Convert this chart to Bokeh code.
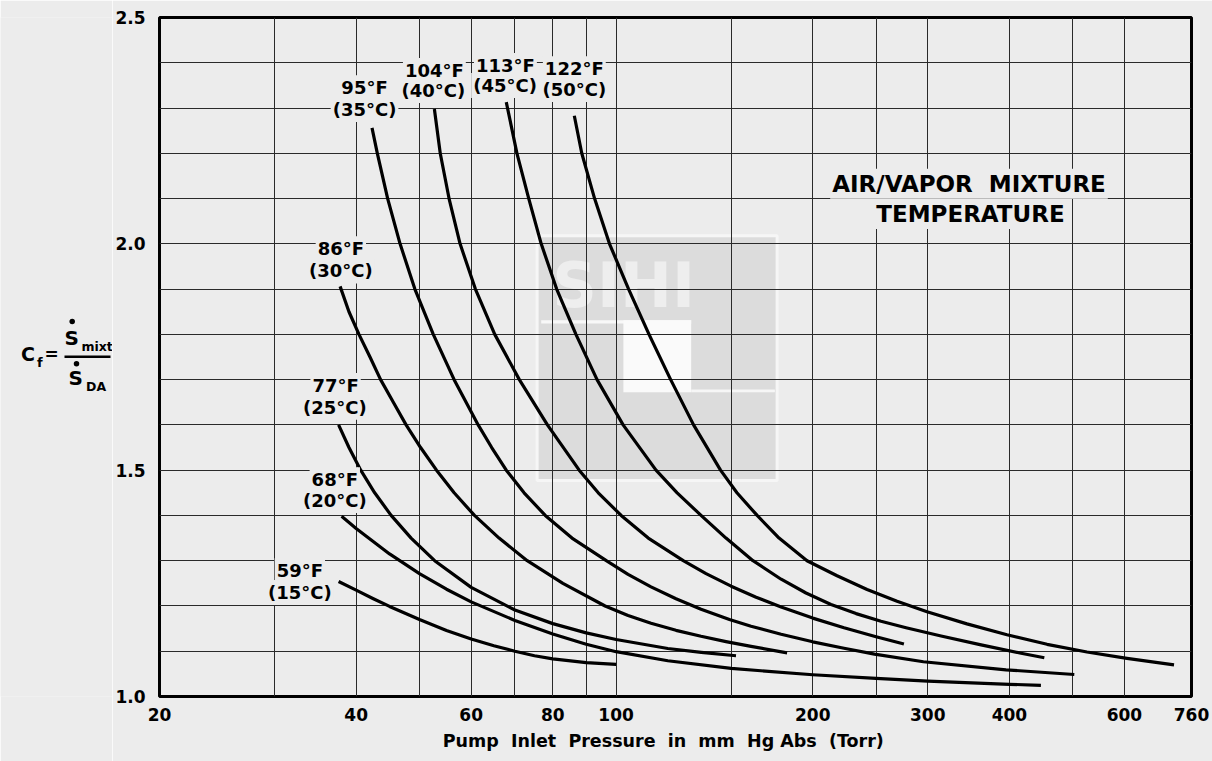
from bokeh.plotting import figure
from bokeh.layouts import row
from bokeh.models import Range1d, FixedTicker, NumeralTickFormatter, Label
from bokeh.embed import file_html
from bokeh.resources import INLINE
from bokeh.core.properties import value

FONT = "DejaVu Sans"
BG = "#ececec"
NB = "\u00a0"

# Mixture temperatures of the curves
temps_f = [59, 68, 77, 86, 95, 104, 113, 122]
temps_c = [15, 20, 25, 30, 35, 40, 45, 50]

# Pump inlet pressure (Torr) and correction factor Cf for each temperature
p_15 = [37.6, 40, 42.5, 45, 50, 55, 60, 65, 70, 75, 80, 90, 100]
cf_15 = [1.254, 1.235, 1.216, 1.199, 1.170, 1.146, 1.127, 1.112, 1.100, 1.090, 1.083,
         1.075, 1.071]

p_20 = [38.0, 40, 45, 50, 55, 60, 70, 80, 90, 100, 120, 150, 200, 250, 300, 400, 447]
cf_20 = [1.398, 1.371, 1.315, 1.2715, 1.237, 1.209, 1.168, 1.138, 1.1155, 1.099, 1.079,
         1.062, 1.048, 1.040, 1.034, 1.027, 1.0245]

p_25 = [37.6, 39.0, 40.65, 42.7, 45.25, 48.55, 52.75, 60, 70, 80, 90, 100, 120, 135,
        152.6]
cf_25 = [1.600, 1.550, 1.500, 1.450, 1.400, 1.350, 1.300, 1.241, 1.191, 1.161, 1.1405,
         1.126, 1.106, 1.0975, 1.090]

p_30 = [37.8, 39.0, 40.4, 42.0, 43.6, 45.6, 47.7, 50.2, 53.1, 56.5, 60.7, 66.2, 73.1,
        82.9, 96.2, 104.3, 113.1, 123.5, 134.9, 147.3, 160.9, 182.7]
cf_30 = [1.906, 1.850, 1.800, 1.750, 1.700, 1.650, 1.600, 1.550, 1.500, 1.450, 1.400,
         1.350, 1.300, 1.250, 1.200, 1.1791, 1.1619, 1.1462, 1.1330, 1.1213, 1.1107,
         1.0963]

p_35 = [42.3, 43.1, 44.7, 46.7, 49.2, 52.5, 56.5, 61.5, 64.5, 67.9, 72.3, 77.9, 85.6,
        96.6, 104.3, 113.1, 123.5, 134.9, 149.1, 160.9, 178.9, 200, 223.3, 248.6, 295.4,
        395.2, 502.8]
cf_35 = [2.256, 2.200, 2.100, 2.000, 1.900, 1.800, 1.700, 1.600, 1.550, 1.500, 1.450,
         1.400, 1.350, 1.300, 1.2699, 1.2423, 1.2158, 1.1926, 1.1701, 1.1553, 1.1374,
         1.1208, 1.1065, 1.0937, 1.0767, 1.0590, 1.0486]

p_40 = [52.7, 53.8, 55.5, 57.7, 60.9, 65.2, 71.1, 78.5, 87.8, 93.9, 101.8, 112.0, 126.7,
        137.3, 150, 163.8, 178.9, 200, 223.3, 250, 275.8]
cf_40 = [2.298, 2.200, 2.100, 2.000, 1.900, 1.800, 1.700, 1.600, 1.500, 1.450, 1.400,
         1.350, 1.300, 1.2713, 1.2437, 1.2193, 1.1977, 1.1732, 1.1518, 1.1319, 1.1160]

p_45 = [67.9, 70.5, 73.5, 76.8, 81.1, 86.8, 93.5, 102.5, 115.1, 124.0, 134.9, 147.3,
        162.0, 178.9, 195.3, 213.3, 233.0, 254.4, 277.9, 314.4, 362.0, 416.8, 452.4]
cf_45 = [2.313, 2.200, 2.100, 2.000, 1.900, 1.800, 1.700, 1.600, 1.500, 1.450, 1.400,
         1.350, 1.300, 1.2591, 1.2286, 1.2034, 1.1831, 1.1663, 1.1520, 1.1336, 1.1140,
         1.0956, 1.0857]

p_50 = [86.3, 88.6, 92.7, 97.7, 104.5, 112.3, 121.2, 131.4, 144.5, 153.1, 164.4, 177.6,
        196.0, 217.9, 242.2, 269.2, 299.2, 344.4, 396.6, 456.8, 525.8, 605.4, 714.6]
cf_50 = [2.283, 2.200, 2.100, 2.000, 1.900, 1.800, 1.700, 1.600, 1.500, 1.450, 1.400,
         1.350, 1.300, 1.2668, 1.2364, 1.2103, 1.1873, 1.1604, 1.1363, 1.1153, 1.0983,
         1.0844, 1.0700]

curves = [(p_15, cf_15), (p_20, cf_20), (p_25, cf_25), (p_30, cf_30),
          (p_35, cf_35), (p_40, cf_40), (p_45, cf_45), (p_50, cf_50)]

# Axis ticks and grid positions
x_ticks = [20, 40, 60, 80, 100, 200, 300, 400, 600, 760]
x_grid = [30, 40, 50, 60, 70, 80, 90, 100, 150, 200, 250, 300, 400, 500, 600]
y_ticks = [1.0, 1.5, 2.0, 2.5]
y_grid = [1.1, 1.2, 1.3, 1.4, 1.5, 1.6, 1.7, 1.8, 1.9, 2.0, 2.1, 2.2, 2.3, 2.4]

# Where each curve's temperature label sits (pressure, Cf)
lab_f_x = [32.8, 37.1, 37.2, 37.9, 41.2, 52.7, 67.7, 86.3]
lab_f_y = [1.278, 1.479, 1.687, 1.989, 2.345, 2.383, 2.394, 2.387]
lab_c_x = [32.8, 37.1, 37.1, 37.9, 41.2, 52.5, 67.6, 86.3]
lab_c_y = [1.230, 1.433, 1.639, 1.940, 2.297, 2.339, 2.350, 2.341]

SIDE_W = 112
H = 761
BORDER_TOP = 17
BORDER_BOTTOM = 65

p = figure(width=1212 - SIDE_W, height=H, x_axis_type="log",
           x_range=Range1d(20, 760), y_range=Range1d(1.0, 2.5),
           output_backend="svg", toolbar_location=None, title=None,
           min_border_left=157 - SIDE_W, min_border_right=21,
           min_border_top=BORDER_TOP, min_border_bottom=BORDER_BOTTOM,
           background_fill_color=BG, border_fill_color=BG)

p.outline_line_color = "black"
p.outline_line_width = 3

p.xgrid.ticker = FixedTicker(ticks=x_grid)
p.ygrid.ticker = FixedTicker(ticks=y_grid)
p.grid.grid_line_color = "#2a2a2a"
p.grid.grid_line_width = 1

p.xaxis.ticker = FixedTicker(ticks=x_ticks)
p.xaxis.formatter = NumeralTickFormatter(format="0")
p.yaxis.ticker = FixedTicker(ticks=y_ticks)
p.yaxis.formatter = NumeralTickFormatter(format="0.0")
for ax in (p.xaxis[0], p.yaxis[0]):
    ax.axis_line_color = None
    ax.major_tick_line_color = None
    ax.minor_tick_line_color = None
    ax.major_tick_out = 0
    ax.major_tick_in = 0
    ax.major_label_text_font = FONT
    ax.major_label_text_font_style = "bold"
    ax.major_label_text_font_size = "17px"
    ax.major_label_text_color = "black"
p.yaxis.major_label_standoff = 14
p.xaxis.major_label_standoff = 11
# trailing no-break spaces nudge the centred title slightly to the left
p.xaxis.axis_label = (f"Pump{NB} Inlet{NB} Pressure{NB} in{NB} mm{NB} Hg Abs{NB} (Torr)"
                      + NB * 4)
p.xaxis.axis_label_text_font = FONT
p.xaxis.axis_label_text_font_style = "bold"
p.xaxis.axis_label_text_font_size = "17.5px"
p.xaxis.axis_label_text_color = "black"
p.xaxis.axis_label_standoff = 7

# faint company logo behind the grid
WM_X = (75.7, 176.4)
WM_Y = (1.477, 2.018)
p.quad(left=[WM_X[0]], right=[WM_X[1]], bottom=[WM_Y[0]], top=[WM_Y[1]],
       fill_color="#dcdcdc", line_color="#f6f6f6", line_width=3, level="image")
p.quad(left=[76.8], right=[130.3], bottom=[1.824], top=[1.831],
       fill_color="#f8f8f8", line_color=None, level="image")
p.quad(left=[102.6], right=[130.3], bottom=[1.672], top=[1.831],
       fill_color="#fafafa", line_color=None, level="image")
p.quad(left=[130.3], right=[175.0], bottom=[1.672], top=[1.678],
       fill_color="#f6f6f6", line_color=None, level="image")
p.text(x=[102.7], y=[1.909], text=["SIHI"], text_font=value(FONT),
       text_font_style="bold", text_font_size="62px", text_color="#eeeeee",
       text_align="center", text_baseline="middle", level="image")

for px, cf in curves:
    p.line(px, cf, line_width=3.2, line_color="black", line_join="round", line_cap="butt")


def add_label(x, y, text, size):
    p.add_layout(Label(x=x, y=y, text=text, text_font=FONT, text_font_style="bold",
                       text_font_size=size, text_color="black", text_align="center",
                       text_baseline="middle", background_fill_color=BG,
                       background_fill_alpha=1.0, padding=2))


for i in range(len(temps_f)):
    add_label(lab_f_x[i], lab_f_y[i], f"{temps_f[i]}°F", "18px")
    add_label(lab_c_x[i], lab_c_y[i], f"({temps_c[i]}°C)", "18px")

add_label(346.9, 2.133, f"AIR/VAPOR{NB} MIXTURE", "23px")
add_label(348.7, 2.066, "TEMPERATURE", "23px")

# left strip carrying the y quantity: Cf = S_mixt / S_DA, on the same vertical scale
side = figure(width=SIDE_W, height=H, x_range=Range1d(0, SIDE_W), y_range=Range1d(1.0, 2.5),
              output_backend="svg", toolbar_location=None, title=None,
              x_axis_location=None, y_axis_location=None,
              min_border_left=0, min_border_right=0,
              min_border_top=BORDER_TOP, min_border_bottom=BORDER_BOTTOM,
              background_fill_color=BG, border_fill_color=BG, outline_line_color=None)
side.xgrid.visible = False
side.ygrid.visible = False

side_x = [20.5, 36.5, 44.0, 64.0, 81.0, 68.0, 85.5]
side_y = [1.7566, 1.7378, 1.7561, 1.7919, 1.7722, 1.7035, 1.6841]
side_t = ["C", "f", "=", "S", "mixt", "S", "DA"]
side_s = ["19px", "13px", "17px", "20px", "12.5px", "20px", "12.5px"]
for sx, sy, st, ss in zip(side_x, side_y, side_t, side_s):
    side.text(x=[sx], y=[sy], text=[st], text_font=value(FONT), text_font_style="bold",
              text_font_size=ss, text_color="black", text_align="left",
              text_baseline="middle")
# flow-rate dots over the two S symbols and the fraction bar
side.scatter(x=[71.7, 76.0], y=[1.8283, 1.7349], size=5.5, marker="circle",
             fill_color="black", line_color=None)
side.quad(left=[64], right=[110], top=[1.7533], bottom=[1.7477], fill_color="black",
          line_color=None)

layout = row(side, p, spacing=0)
open("out.html", "w").write(file_html(layout, INLINE))
